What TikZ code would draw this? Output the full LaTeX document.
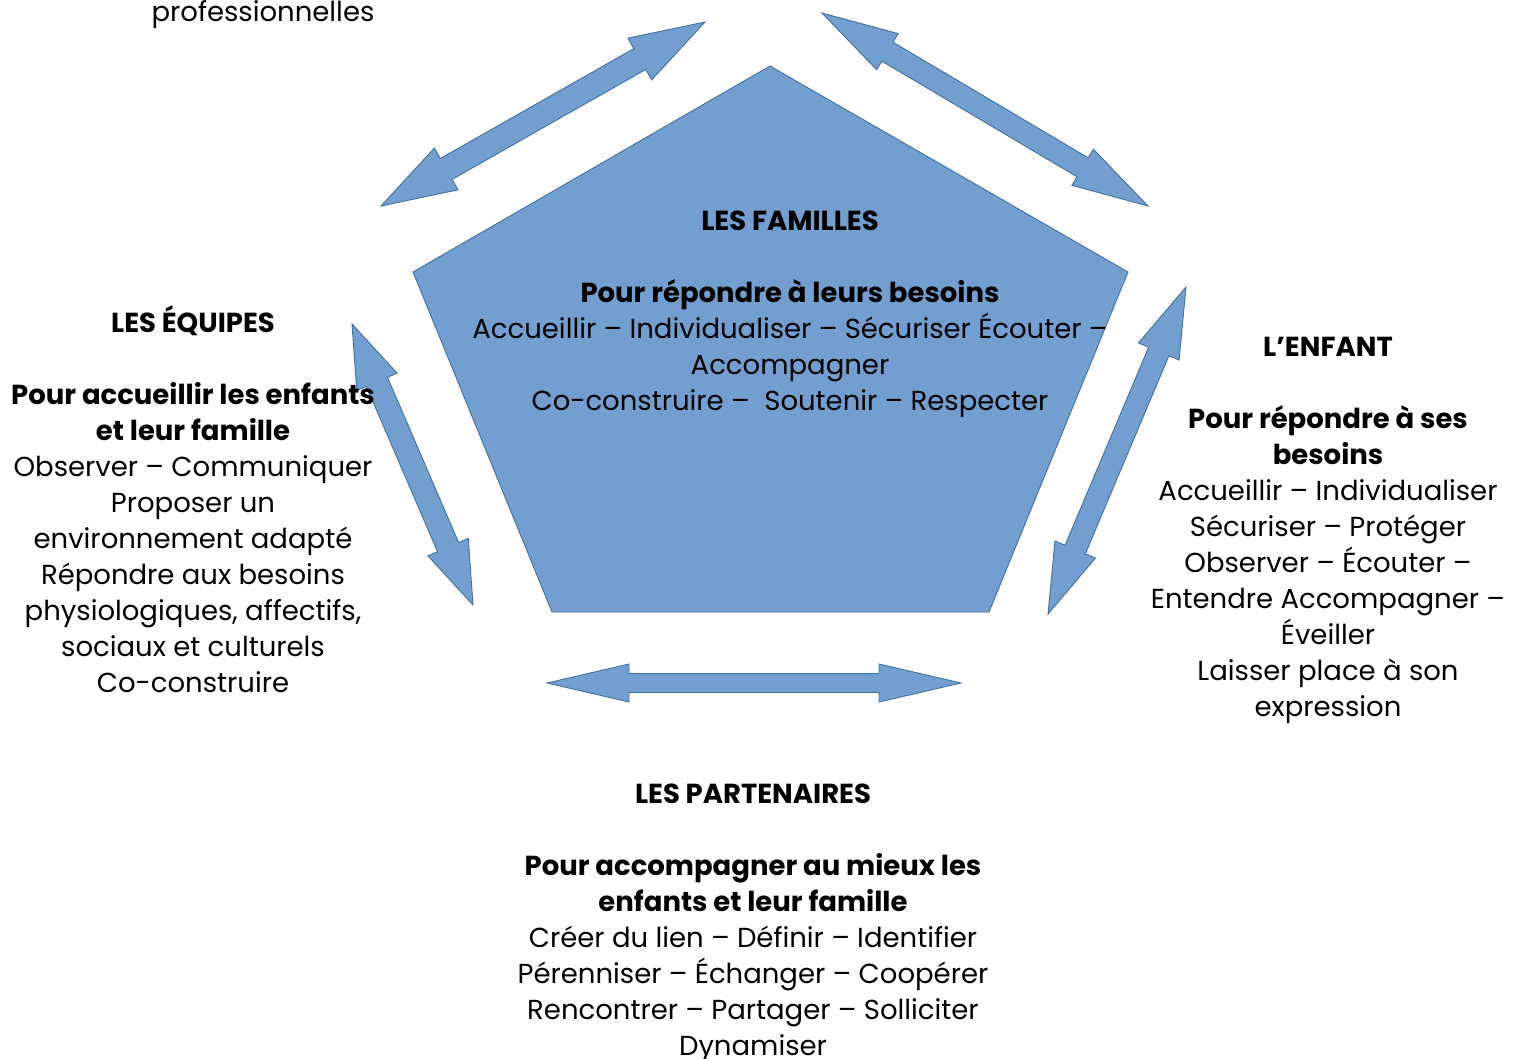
\documentclass[tikz,border=0pt]{standalone}
\usepackage{fontspec}
\setmainfont{Poppins}
\usetikzlibrary{calc}
\definecolor{shapefill}{RGB}{114,159,207}
\definecolor{shapeline}{RGB}{65,113,156}
\tikzset{
  shapestyle/.style={fill=shapefill, draw=shapeline, line width=0.9pt, line join=miter},
  textblock/.style={align=center, inner sep=0pt, anchor=north, font=\fontsize{27.5}{36}\selectfont},
}
% #1 start, #2 end, #3 shaft half width, #4 head half width, #5 head length
\newcommand\blockarrow[5]{%
  \coordinate (h1) at ($(#1)!#5!(#2)$);
  \coordinate (h2) at ($(#2)!#5!(#1)$);
  \draw[shapestyle] (#1) -- ($(h1)!#4!90:(#2)$) -- ($(h1)!#3!90:(#2)$)
    -- ($(h2)!#3!-90:(#1)$) -- ($(h2)!#4!-90:(#1)$) -- (#2)
    -- ($(h2)!#4!90:(#1)$) -- ($(h2)!#3!90:(#1)$)
    -- ($(h1)!#3!-90:(#2)$) -- ($(h1)!#4!-90:(#2)$) -- cycle;
}
\newcommand\hd{\rule{0pt}{28pt}}
\begin{document}
\begin{tikzpicture}[x=1pt,y=-1pt]
\useasboundingbox (0,0) rectangle (1517,1059);
% pentagon
\coordinate (p1) at (770,66);
\coordinate (p2) at (1128,272);
\coordinate (p3) at (989,612);
\coordinate (p4) at (552,612);
\coordinate (p5) at (413,272);
\draw[shapestyle] (p1) -- (p2) -- (p3) -- (p4) -- (p5) -- cycle;
% arrows
\coordinate (tla) at (381,206); \coordinate (tlb) at (705,22);
\coordinate (tra) at (822,13);  \coordinate (trb) at (1148,206);
\coordinate (la) at (352,324);  \coordinate (lb) at (473,605);
\coordinate (ra) at (1186,287); \coordinate (rb) at (1048,614);
\coordinate (ba) at (547,683);  \coordinate (bb) at (961,683);
\blockarrow{tla}{tlb}{12pt}{24pt}{75pt}
\blockarrow{tra}{trb}{11pt}{21pt}{76pt}
\blockarrow{la}{lb}{11.5pt}{22pt}{63pt}
\blockarrow{ra}{rb}{11pt}{22pt}{70pt}
\blockarrow{ba}{bb}{9.5pt}{19pt}{82pt}
% texts
\node[textblock, anchor=base] (prof) at (263,22) {professionnelles};
\node[textblock] (familles) at (790,202) {\hd\bfseries LES FAMILLES\\ \mbox{}\\
  \bfseries Pour répondre à leurs besoins\\
  Accueillir – Individualiser – Sécuriser Écouter –\\
  Accompagner\\
  Co-construire –\ \ Soutenir – Respecter};
\node[textblock] (equipes) at (193,304) {\hd\bfseries LES ÉQUIPES\\ \mbox{}\\
  \bfseries Pour accueillir les enfants\\
  \bfseries et leur famille\\
  Observer – Communiquer\\
  Proposer un\\
  environnement adapté\\
  Répondre aux besoins\\
  physiologiques, affectifs,\\
  sociaux et culturels\\
  Co-construire};
\node[textblock] (enfant) at (1328,328) {\hd\bfseries L’ENFANT\\ \mbox{}\\
  \bfseries Pour répondre à ses\\
  \bfseries besoins\\
  Accueillir – Individualiser\\
  Sécuriser – Protéger\\
  Observer – Écouter –\\
  Entendre Accompagner –\\
  Éveiller\\
  Laisser place à son\\
  expression};
\node[textblock] (partenaires) at (753,775) {\hd\bfseries LES PARTENAIRES\\ \mbox{}\\
  \bfseries Pour accompagner au mieux les\\
  \bfseries enfants et leur famille\\
  Créer du lien – Définir – Identifier\\
  Pérenniser – Échanger – Coopérer\\
  Rencontrer – Partager – Solliciter\\
  Dynamiser};
\end{tikzpicture}
\end{document}
